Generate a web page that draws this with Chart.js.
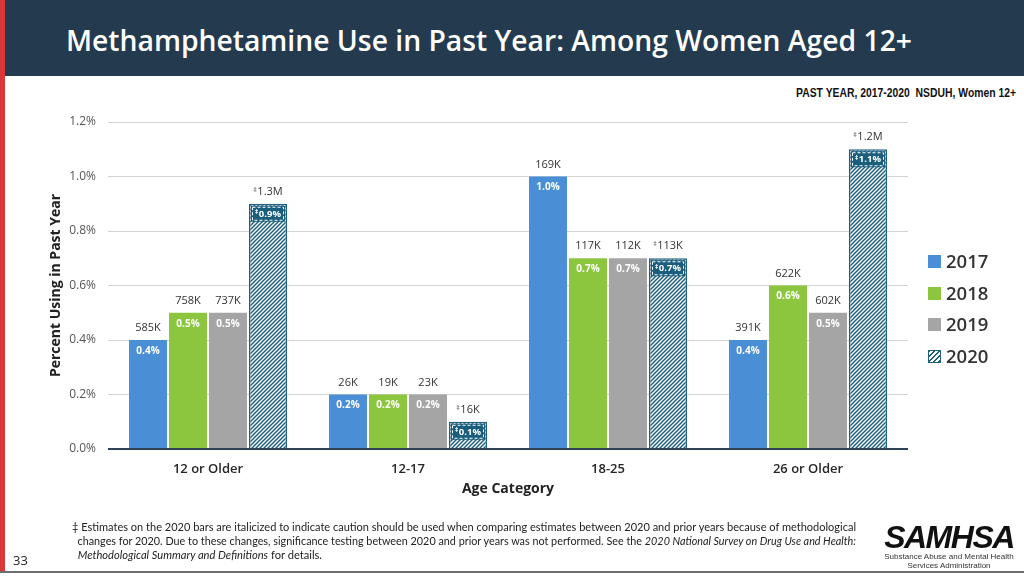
<!DOCTYPE html>
<html>
<head>
<meta charset="utf-8">
<script src="https://cdn.jsdelivr.net/npm/chart.js@4"></script>
<style>
  html, body { margin:0; padding:0; background:#fff; }
  body { width:1024px; height:576px; position:relative; overflow:hidden; font-family:"Open Sans", sans-serif; }
  #header { position:absolute; left:0; top:0; width:1024px; height:76px; background:#243a4f; }
  #title { position:absolute; left:66px; top:20px; color:#fff; font-family:"Open Sans", sans-serif; font-size:29px; font-weight:600; white-space:nowrap; transform-origin:left center; }
  #redbar { position:absolute; left:0; top:0; width:5px; height:572px; background:#d9373a; }
  #bottomline { position:absolute; left:0; top:571px; width:1024px; height:2px; background:#6d6d6d; }
  #sub { position:absolute; top:86px; right:8px; font-family:"Liberation Sans Narrow","Liberation Sans",Arial,sans-serif; font-weight:bold; font-size:12.5px; color:#111; white-space:nowrap; transform-origin:right center; }
  #c { position:absolute; left:0; top:0; }
  .leg { position:absolute; left:928px; height:20px; font-size:18.5px; color:#333; font-weight:600; line-height:20px; }
  .leg span.sw { position:absolute; left:0; top:3px; width:13px; height:13px; }
  .leg span.tx { position:absolute; left:18px; top:-1px; white-space:nowrap; }
  #foot { position:absolute; left:72px; top:520px; font-family:"Liberation Sans Narrow","Lato",sans-serif; font-size:11.5px; line-height:14px; color:#222; white-space:nowrap; }
  #foot div { transform-origin:left center; }
  #pnum { position:absolute; left:13px; top:551px; font-size:13px; color:#222; }
  #logo { position:absolute; left:880px; top:522px; width:138px; text-align:center; color:#111; }
  #logo .big { font-family:"Liberation Sans",Arial,sans-serif; font-weight:bold; font-style:italic; font-size:32px; line-height:30px; letter-spacing:-1.5px; }
  #logo .small { font-family:"Liberation Sans Narrow","Liberation Sans",sans-serif; font-size:8px; line-height:9px; color:#333; }
</style>
</head>
<body>
<div id="header"></div>
<div id="title">Methamphetamine Use in Past Year: Among Women Aged 12+</div>
<div id="redbar"></div>
<div id="bottomline"></div>
<div id="sub">PAST YEAR, 2017-2020&nbsp; NSDUH, Women 12+</div>
<canvas id="c" width="1024" height="576"></canvas>
<div id="legend"></div>
<div id="foot">
  <div id="f1">‡ Estimates on the 2020 bars are italicized to indicate caution should be used when comparing estimates between 2020 and prior years because of methodological</div>
  <div id="f2">&nbsp;&nbsp;changes for 2020. Due to these changes, significance testing between 2020 and prior years was not performed. See the <i>2020 National Survey on Drug Use and Health:</i></div>
  <div id="f3">&nbsp;&nbsp;<i>Methodological Summary and Definitions</i> for details.</div>
</div>
<div id="pnum">33</div>
<div id="logo">
  <div class="big">SAMHSA</div>
  <div class="small">Substance Abuse and Mental Health</div>
  <div class="small">Services Administration</div>
</div>
<script>
// ---- data ----
const categories = ['12 or Older', '12-17', '18-25', '26 or Older'];
const years = ['2017', '2018', '2019', '2020'];
const pct2017 = [0.4, 0.2, 1.0, 0.4];
const pct2018 = [0.5, 0.2, 0.7, 0.6];
const pct2019 = [0.5, 0.2, 0.7, 0.5];
const pct2020 = [0.9, 0.1, 0.7, 1.1];
const count2017 = ['585K', '26K', '169K', '391K'];
const count2018 = ['758K', '19K', '117K', '622K'];
const count2019 = ['737K', '23K', '112K', '602K'];
const count2020 = ['1.3M', '16K', '113K', '1.2M'];
const yTickMax = 1.2;
const yTickStep = 0.2;

const colors = ['#4a8fd5', '#8cc63f', '#a5a5a5'];
const hatchColor = '#1f5f80';
const boxColor = '#1b5d7c';

const canvas = document.getElementById('c');
const ctx = canvas.getContext('2d');

function makeHatch() {
  const t = document.createElement('canvas');
  t.width = 4; t.height = 4;
  const g = t.getContext('2d');
  g.fillStyle = '#ffffff'; g.fillRect(0, 0, 4, 4);
  g.strokeStyle = hatchColor; g.lineWidth = 1.5;
  g.beginPath();
  g.moveTo(0, 4); g.lineTo(4, 0);
  g.moveTo(-1, 1); g.lineTo(1, -1);
  g.moveTo(3, 5); g.lineTo(5, 3);
  g.stroke();
  return ctx.createPattern(t, 'repeat');
}
const hatch = makeHatch();

const pcts = [pct2017, pct2018, pct2019, pct2020];
const counts = [count2017, count2018, count2019, count2020];

const datasets = years.map((yr, i) => ({
  label: yr,
  data: pcts[i],
  backgroundColor: i < 3 ? colors[i] : hatch,
  borderColor: i < 3 ? colors[i] : hatchColor,
  borderWidth: i < 3 ? 0 : 1.5,
  borderSkipped: 'bottom',
  categoryPercentage: 0.8,
  barPercentage: 0.95
}));

function drawDagText(c, dag, text, x, y, bigFont, smallFont) {
  c.font = smallFont; const w1 = dag ? c.measureText('‡').width + 0.5 : 0;
  c.font = bigFont; const w2 = c.measureText(text).width;
  let sx = x - (w1 + w2) / 2;
  c.textAlign = 'left'; c.textBaseline = 'middle';
  if (dag) { c.font = smallFont; c.fillText('‡', sx, y - 2); sx += w1; }
  c.font = bigFont; c.fillText(text, sx, y);
}

const labelPlugin = {
  id: 'barLabels',
  afterDatasetsDraw(chart) {
    const c = chart.ctx;
    c.save();
    chart.data.datasets.forEach((ds, i) => {
      const meta = chart.getDatasetMeta(i);
      meta.data.forEach((bar, j) => {
        const p = bar.getProps(['x', 'y', 'width'], true);
        const is2020 = i === 3;
        // count label above
        c.fillStyle = '#333333';
        drawDagText(c, is2020, counts[i][j], p.x, p.y - 12, '500 11px "Open Sans", sans-serif', '7px "Open Sans", sans-serif');
        // pct label inside
        const pctText = pcts[i][j].toFixed(1) + '%';
        if (is2020) {
          const bx = p.x - p.width / 2 + 2, by = p.y + 2, bw = p.width - 4, bh = 16;
          c.fillStyle = boxColor;
          c.fillRect(bx, by, bw, bh);
          c.strokeStyle = '#ffffff'; c.lineWidth = 1; c.setLineDash([3, 2]);
          c.strokeRect(bx + 1.5, by + 1.5, bw - 3, bh - 3);
          c.setLineDash([]);
          c.fillStyle = '#ffffff';
          drawDagText(c, true, pctText, p.x, by + bh / 2 + 0.5, 'bold 9.5px "Open Sans", sans-serif', 'bold 6.5px "Open Sans", sans-serif');
        } else {
          c.fillStyle = '#ffffff';
          c.font = 'bold 10px "Open Sans", sans-serif';
          c.textAlign = 'center'; c.textBaseline = 'middle';
          c.fillText(pctText, p.x, p.y + 11);
        }
      });
    });
    c.restore();
  }
};

new Chart(ctx, {
  type: 'bar',
  data: { labels: categories, datasets },
  options: {
    responsive: false,
    animation: false,
    devicePixelRatio: 1,
    layout: { padding: { left: 44, right: 116, top: 122, bottom: 75 } },
    plugins: { legend: { display: false }, tooltip: { enabled: false } },
    scales: {
      x: {
        grid: { display: false },
        border: { display: false },
        ticks: { color: '#262626', font: { family: 'Open Sans', size: 13, weight: '600' }, padding: 4 },
        title: { display: true, text: 'Age Category', color: '#222', font: { family: 'Open Sans', size: 14, weight: 'bold' } },
        afterFit(s) { s.height = 52; }
      },
      y: {
        min: 0, max: yTickMax,
        grid: {
          drawTicks: false,
          color: (c) => c.tick && c.tick.value === 0 ? '#2d4254' : '#d3d3d3',
          lineWidth: (c) => c.tick && c.tick.value === 0 ? 2 : 1
        },
        border: { display: false },
        ticks: {
          stepSize: yTickStep, padding: 12, color: '#555',
          font: { family: 'Open Sans', size: 12 },
          callback: (v) => v.toFixed(1) + '%'
        },
        title: { display: true, text: 'Percent Using in Past Year', color: '#222', font: { family: 'Open Sans', size: 14, weight: 'bold' } },
        afterFit(s) { s.width = 64; }
      }
    }
  },
  plugins: [labelPlugin]
});

// legend (HTML)
const legend = document.getElementById('legend');
const legTops = [252, 284, 315, 347];
years.forEach((yr, i) => {
  const d = document.createElement('div');
  d.className = 'leg';
  d.style.top = legTops[i] + 'px';
  const sw = document.createElement('span');
  sw.className = 'sw';
  if (i < 3) sw.style.background = colors[i];
  else { sw.style.background = 'repeating-linear-gradient(135deg, ' + hatchColor + ' 0 1.4px, #fff 1.4px 3.5px)'; sw.style.boxSizing = 'border-box'; sw.style.border = '1px solid ' + hatchColor; }
  const tx = document.createElement('span');
  tx.className = 'tx'; tx.textContent = yr;
  d.appendChild(sw); d.appendChild(tx);
  legend.appendChild(d);
});

// fit text widths
function fitWidth(el, target) {
  const w = el.getBoundingClientRect().width;
  if (w > 0) el.style.transform = 'scaleX(' + (target / w) + ')';
}
function fitInline(id, target) {
  const el = document.getElementById(id);
  el.style.display = 'inline-block';
  const w = el.getBoundingClientRect().width;
  el.style.display = 'block';
  if (w > 0) el.style.transform = 'scaleX(' + (target / w) + ')';
}
fitInline('f1', 784);
fitInline('f2', 784);
fitInline('f3', 250);
fitWidth(document.getElementById('sub'), 220);
fitWidth(document.getElementById('title'), 846);
</script>
</body>
</html>
